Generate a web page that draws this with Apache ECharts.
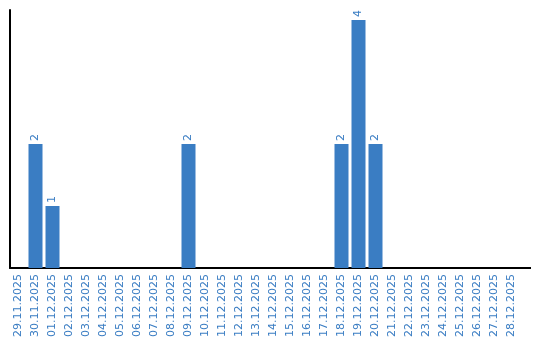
<!DOCTYPE html>
<html><head><meta charset="utf-8">
<script src="https://cdn.jsdelivr.net/npm/echarts@6/dist/echarts.min.js"></script>
<style>html,body{margin:0;padding:0;background:#fff}#c{width:540px;height:340px}</style>
</head><body><div id="c"></div>
<script>
const categories = ["29.11.2025","30.11.2025","01.12.2025","02.12.2025","03.12.2025","04.12.2025","05.12.2025","06.12.2025","07.12.2025","08.12.2025","09.12.2025","10.12.2025","11.12.2025","12.12.2025","13.12.2025","14.12.2025","15.12.2025","16.12.2025","17.12.2025","18.12.2025","19.12.2025","20.12.2025","21.12.2025","22.12.2025","23.12.2025","24.12.2025","25.12.2025","26.12.2025","27.12.2025","28.12.2025"];
const values = [0,2,1,0,0,0,0,0,0,0,2,0,0,0,0,0,0,0,0,2,4,2,0,0,0,0,0,0,0,0];
const color = "#3a7dc3";
const chart = echarts.init(document.getElementById('c'), null, {renderer:'canvas'});
chart.setOption({
  animation:false,
  grid:{left:10,right:20,top:10,bottom:70},
  xAxis:{type:'category',data:categories,
    axisLine:{lineStyle:{color:'#000',width:2}},axisTick:{show:false},
    axisLabel:{rotate:90,interval:0,color:color,fontFamily:'DejaVu Sans',fontSize:11,margin:6}},
  yAxis:{type:'value',min:0,max:4.16,axisLabel:{show:false},splitLine:{show:false},
    axisLine:{show:true,lineStyle:{color:'#000',width:2}},axisTick:{show:false}},
  series:[{type:'bar',data:values,barWidth:14,itemStyle:{color:color},
    label:{show:true,position:'top',rotate:90,align:'left',verticalAlign:'middle',distance:3,
      color:color,fontFamily:'DejaVu Sans',fontSize:11,
      formatter:p=>p.value>0?String(p.value):''}}]
});
const p0 = chart.convertToPixel({xAxisIndex:0,yAxisIndex:0},[categories.length-1,0]);
chart.setOption({graphic:[{type:'line',shape:{x1:p0[0],y1:p0[1],x2:531,y2:p0[1]},style:{stroke:'#000',lineWidth:2},z:10}]});
</script></body></html>
